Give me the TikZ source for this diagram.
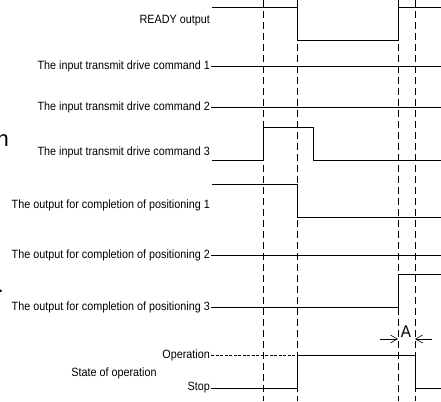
\documentclass[tikz,border=0pt]{standalone}
\usepackage{fontspec}
\setmainfont{Liberation Sans}
\usetikzlibrary{arrows.meta}
\newcommand{\narrow}[1]{\scalebox{0.9}[1]{#1}}
\tikzset{
  sig/.style={line width=0.9pt},
  timeline/.style={line width=0.6pt, dash pattern=on 7pt off 4pt},
  lbl/.style={anchor=east, inner sep=1pt, font=\fontsize{12}{14}\selectfont},
  dimarrow/.style={line width=0.6pt, -{Straight Barb[length=7pt,width=8pt]}}
}

\begin{document}
\begin{tikzpicture}[x=1pt, y=-1pt]
\useasboundingbox (0,0) rectangle (441,401);
\foreach \t in {263,297,398,415}
  \draw[timeline] (\t,0) -- (\t,401);
% signals
\node[lbl] (ready) at (211,21) {\narrow{READY output}};
\draw[sig] (212,7) -- (297,7) -- (297,40) -- (398,40) -- (398,7) -- (441,7);
\node[lbl] (in1) at (211,66) {\narrow{The input transmit drive command 1}};
\draw[sig] (in1.east) -- (441,66);
\node[lbl] (in2) at (211,107) {\narrow{The input transmit drive command 2}};
\draw[sig] (in2.east) -- (441,107);
\node[lbl] (in3) at (211,152) {\narrow{The input transmit drive command 3}};
\draw[sig] (212,160) -- (263,160) -- (263,127) -- (313,127) -- (313,160) -- (441,160);
\node[lbl] (out1) at (211,205) {\narrow{The output for completion of positioning 1}};
\draw[sig] (212,184) -- (297,184) -- (297,217) -- (441,217);
\node[lbl] (out2) at (211,255) {\narrow{The output for completion of positioning 2}};
\draw[sig] (out2.east) -- (441,255);
\node[lbl] (out3) at (211,307) {\narrow{The output for completion of positioning 3}};
\draw[sig] (out3.east) -- (398,307) -- (398,274) -- (441,274);
% state of operation
\node[lbl] (oper) at (211,355) {\narrow{Operation}};
\node[lbl] (stop) at (211,388) {\narrow{Stop}};
\node[lbl, anchor=center] (state) at (114,373) {\narrow{State of operation}};
\draw[line width=0.5pt, dash pattern=on 3pt off 1.5pt] (oper.east) -- (297,355);
\draw[sig] (stop.east) -- (297,388) -- (297,355) -- (415,355) -- (415,388) -- (441,388);
% time A
\draw[dimarrow] (380,339) -- (398,339);
\draw[dimarrow] (432,339) -- (415,339);
\node[font=\fontsize{17}{19}\selectfont, inner sep=0pt] (a) at (406,332) {\narrow{A}};
% cut-off text at left edge
\node[anchor=base east, inner sep=0pt, font=\fontsize{22}{24}\selectfont] (cutn) at (9,146) {n};
\node[anchor=base east, inner sep=0pt, font=\fontsize{22}{24}\selectfont] (cutdot) at (4,292) {.};
\end{tikzpicture}
\end{document}
